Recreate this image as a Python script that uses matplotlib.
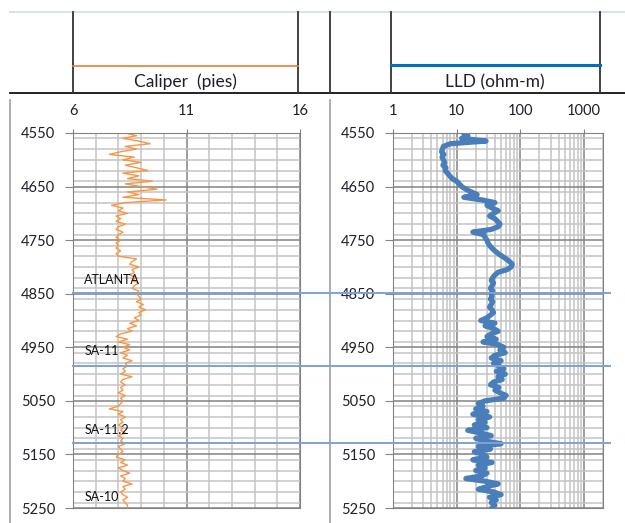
import matplotlib
matplotlib.use("Agg")
import matplotlib.pyplot as plt
import matplotlib.transforms as mtransforms
from matplotlib.lines import Line2D
from matplotlib.ticker import MultipleLocator, LogLocator, NullFormatter

# depth every 5 ft
depth = list(range(4550, 5255, 5))

caliper = [8.3, 8.8, 8.2, 8.9, 9.4, 8.3, 8.8, 8.1, 7.6, 8.7,
           8.2, 9.0, 8.3, 8.8, 9.3, 8.2, 8.9, 8.4, 9.5, 8.3,
           9.0, 9.7, 8.4, 8.9, 8.2, 10.1, 8.3, 7.7, 8.2, 8.0,
           8.4, 7.9, 8.1, 7.9, 8.3, 8.0, 7.9, 8.2, 8.0, 7.9,
           8.1, 7.9, 8.0, 7.9, 8.1, 7.9, 8.0, 8.8, 8.6, 8.5,
           8.9, 8.6, 8.7, 8.5, 8.8, 8.6, 8.9, 8.7, 8.6, 8.9,
           8.8, 8.9, 9.0, 8.8, 9.1, 8.9, 9.2, 8.9, 9.0, 8.7,
           8.9, 8.5, 8.8, 8.4, 8.6, 8.1, 7.9, 8.4, 8.0, 8.5,
           8.2, 8.5, 8.1, 8.4, 8.2, 8.6, 8.3, 8.4, 8.2, 8.3,
           8.1, 8.6, 8.2, 8.1, 8.3, 8.1, 8.2, 8.0, 8.3, 8.1,
           8.2, 8.1, 8.0, 7.6, 8.2, 8.0, 8.3, 8.1, 8.2, 8.0,
           8.2, 8.1, 8.3, 8.0, 8.2, 8.1, 8.3, 8.0, 8.1, 8.2,
           8.0, 7.9, 8.3, 8.1, 8.4, 8.0, 8.2, 8.5, 8.1, 8.3,
           8.2, 8.6, 8.2, 8.3, 8.1, 8.2, 8.4, 8.2, 8.3, 8.4,
           8.4]

lld = [13, 15, 12, 29, 8, 6.2, 6.0, 5.8, 6.3, 5.9,
       6.2, 6.5, 6.1, 6.8, 6.6, 7.2, 7.8, 8.5, 10, 11,
       12, 14, 17, 21, 13, 25, 40, 30, 36, 45,
       38, 33, 40, 44, 48, 45, 35, 18, 27, 28,
       30, 31, 33, 36, 40, 45, 52, 60, 68, 75,
       72, 62, 45, 40, 37, 35, 38, 36, 34, 37,
       35, 36, 34, 37, 35, 33, 36, 38, 34, 30,
       24, 40, 28, 38, 45, 35, 30, 42, 26, 45,
       55, 48, 58, 40, 35, 50, 38, 46, 55, 42,
       58, 45, 52, 38, 34, 46, 40, 48, 60, 55,
       28, 22, 26, 20, 30, 18, 33, 22, 28, 19,
       30, 15, 24, 35, 20, 28, 50, 22, 34, 19,
       26, 30, 18, 36, 22, 28, 20, 30, 25, 14,
       28, 45, 30, 22, 38, 50, 33, 42, 35, 40,
       36]

tops = [4848, 4985, 5128]
top_names = ['ATLANTA', 'SA-11', 'SA-11.2', 'SA-10']
name_depths = [4824, 4957, 5104, 5229]
cal_ticks = [6, 11, 16]
lld_ticks = [1, 10, 100, 1000]
depth_ticks = list(range(4550, 5251, 100))

W, H = 625, 523
fig = plt.figure(figsize=(W / 100, H / 100), dpi=100)
plt.rcParams['font.family'] = ['Lato', 'DejaVu Sans']
txt = '#1e1e2a'


def fline(x0, y0, x1, y1, **kw):
    fig.add_artist(Line2D([x0 / W, x1 / W], [1 - y0 / H, 1 - y1 / H],
                          transform=fig.transFigure, **kw))


# header boxes
fline(10, 12, 625, 12, color='#d9e1ec', lw=1.5)
fline(10, 93, 625, 93, color='#111111', lw=1.3)
for x in [73, 298, 330, 391, 600]:
    fline(x, 12, x, 93, color='#333333', lw=1.3)
fline(73, 66, 298, 66, color='#ED7D31', lw=1.2)
fline(391, 65, 600, 65, color='#0070C0', lw=2.2)
fig.text(185 / W, 1 - 82 / H, 'Caliper  (pies)', ha='center', va='center',
         fontsize=12.5, color=txt)
fig.text(495 / W, 1 - 82 / H, 'LLD (ohm-m)', ha='center', va='center',
         fontsize=12.5, color=txt)

# panel borders
fline(10, 100, 10, 523, color='#a6a6a6', lw=1.3)
fline(330, 100, 330, 523, color='#a6a6a6', lw=1.3)

ax1 = fig.add_axes([73 / W, 1 - 508 / H, 227 / W, 375 / H])
ax2 = fig.add_axes([393 / W, 1 - 508 / H, 210 / W, 375 / H])

ax1.plot(caliper, depth, color='#F79646', lw=1.0)
ax1.set_xlim(6, 16)
ax1.set_xticks(cal_ticks, labels=[str(t) for t in cal_ticks])
ax1.xaxis.set_minor_locator(MultipleLocator(1))

ax2.plot(lld, depth, color='#4A7EBB', lw=3.8, solid_joinstyle='round')
ax2.set_xscale('log')
ax2.set_xlim(1, 2000)
ax2.set_xticks(lld_ticks, labels=[str(t) for t in lld_ticks])
ax2.xaxis.set_minor_locator(LogLocator(base=10, subs=range(2, 10)))
ax2.xaxis.set_minor_formatter(NullFormatter())

for ax in [ax1, ax2]:
    ax.set_ylim(5250, 4550)
    ax.set_yticks(depth_ticks, labels=[str(t) for t in depth_ticks])
    ax.yaxis.set_minor_locator(MultipleLocator(20))
    ax.xaxis.tick_top()
    ax.set_axisbelow(True)
    ax.grid(which='minor', color='#c3c3c3', lw=1.1)
    ax.grid(which='major', color='#828282', lw=1.1)
    ax.tick_params(which='minor', length=0)
    ax.tick_params(axis='y', which='major', length=6, pad=7, color='#828282',
                   labelsize=10.5, labelcolor=txt)
    ax.tick_params(axis='x', which='major', length=3, pad=8, color='#828282',
                   labelsize=10.5, labelcolor=txt)
    for s in ax.spines.values():
        s.set_color('#828282')

# formation tops across both tracks
trans = mtransforms.blended_transform_factory(fig.transFigure, ax1.transData)
for d in tops:
    fig.add_artist(Line2D([73 / W, 610 / W], [d, d], transform=trans,
                          color='#7ea2d0', lw=1.4))
for name, d in zip(top_names, name_depths):
    ax1.text(6.5, d, name, ha='left', va='center', fontsize=9, color='#111111')

fig.savefig('out.png', dpi=100)
